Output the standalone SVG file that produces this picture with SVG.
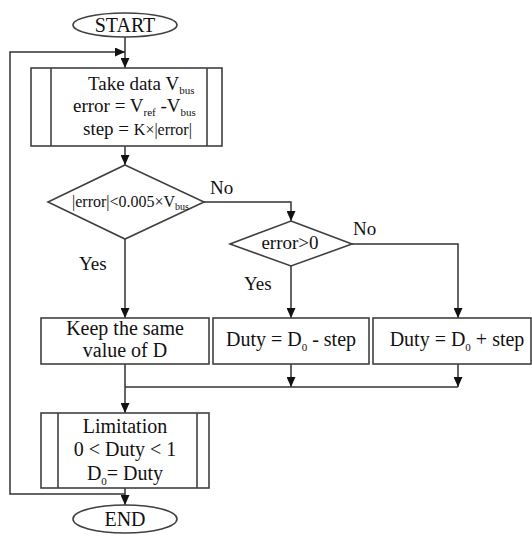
<svg xmlns="http://www.w3.org/2000/svg" width="532" height="541" viewBox="0 0 532 541">
<style>
  .shape { fill: #fff; stroke: #404040; stroke-width: 1.6; }
  .line { fill: none; stroke: #333; stroke-width: 1.5; }
  text { font-family: "Liberation Serif", "Times New Roman", serif; fill: #111; }
  .t20 { font-size: 20px; }
  .t19 { font-size: 19px; }
  .sub { font-size: 11px; }
  .mid { text-anchor: middle; }
</style>
<defs>
  <marker id="arr" markerUnits="userSpaceOnUse" markerWidth="10" markerHeight="9" refX="10" refY="4.5" orient="auto" viewBox="0 0 10 9">
    <path d="M0,0 L10,4.5 L0,9 z" fill="#111"/>
  </marker>
</defs>

<g id="connectors">
  <line class="line" x1="125" y1="37" x2="125" y2="68" marker-end="url(#arr)"/>
  <polyline class="line" points="125,494 10,494 10,52 125,52" marker-end="url(#arr)"/>
  <line class="line" x1="125" y1="146" x2="125" y2="165" marker-end="url(#arr)"/>
  <polyline class="line" points="204,202 291,202 291,221" marker-end="url(#arr)"/>
  <line class="line" x1="125" y1="239" x2="125" y2="318" marker-end="url(#arr)"/>
  <line class="line" x1="291" y1="266" x2="291" y2="318" marker-end="url(#arr)"/>
  <polyline class="line" points="352,244 458,244 458,318" marker-end="url(#arr)"/>
  <line class="line" x1="291" y1="364" x2="291" y2="387" marker-end="url(#arr)"/>
  <line class="line" x1="458" y1="364" x2="458" y2="387" marker-end="url(#arr)"/>
  <line class="line" x1="125" y1="387" x2="458" y2="387"/>
  <line class="line" x1="125" y1="364" x2="125" y2="413" marker-end="url(#arr)"/>
  <line class="line" x1="125" y1="488" x2="125" y2="505" marker-end="url(#arr)"/>
  <text class="t19" x="210" y="194">No</text>
  <text class="t19" x="353" y="235">No</text>
  <text class="t19" x="79" y="270">Yes</text>
  <text class="t19" x="244" y="290">Yes</text>
</g>

<g id="start">
  <ellipse class="shape" cx="125" cy="25" rx="52" ry="12"/>
  <text class="t20 mid" x="125" y="32">START</text>
</g>

<g id="take-data">
  <rect class="shape" x="31" y="68" width="191" height="78"/>
  <line class="shape" x1="51" y1="68" x2="51" y2="146"/>
  <line class="shape" x1="207" y1="68" x2="207" y2="146"/>
  <text class="t19" x="88" y="90">Take data V<tspan class="sub" dy="4">bus</tspan></text>
  <text class="t19" x="73" y="112">error = V<tspan class="sub" dy="4">ref</tspan><tspan dy="-4"> -V</tspan><tspan class="sub" dy="4">bus</tspan></text>
  <text class="t19" x="83" y="135">step = <tspan style="font-size:16px">K×|error|</tspan></text>
</g>

<g id="decision-error-small">
  <polygon class="shape" points="125,165 204,202 125,239 48,202"/>
  <text style="font-size:16px" x="72" y="207">|error|&lt;0.005×V<tspan style="font-size:10px" dy="3">bus</tspan></text>
</g>

<g id="decision-error-positive">
  <polygon class="shape" points="291,221 352,244 291,266 230,244"/>
  <text class="t19 mid" x="290" y="249">error&gt;0</text>
</g>

<g id="keep-d">
  <rect class="shape" x="41" y="318" width="168" height="46"/>
  <text class="t20 mid" x="125" y="335">Keep the same</text>
  <text class="t20 mid" x="125" y="357">value of D</text>
</g>

<g id="duty-minus">
  <rect class="shape" x="213" y="318" width="156" height="46"/>
  <text class="t20 mid" x="291" y="346">Duty = D<tspan class="sub" dy="5">0</tspan><tspan dy="-5"> - step</tspan></text>
</g>

<g id="duty-plus">
  <rect class="shape" x="373" y="318" width="158" height="46"/>
  <text class="t20 mid" x="457" y="346">Duty = D<tspan class="sub" dy="5">0</tspan><tspan dy="-5"> + step</tspan></text>
</g>

<g id="limitation">
  <rect class="shape" x="41" y="413" width="168" height="75"/>
  <line class="shape" x1="58" y1="413" x2="58" y2="488"/>
  <line class="shape" x1="197" y1="413" x2="197" y2="488"/>
  <text class="t20 mid" x="125" y="433">Limitation</text>
  <text class="t20 mid" x="125" y="456">0 &lt; Duty &lt; 1</text>
  <text class="t20 mid" x="125" y="480">D<tspan class="sub" dy="5">0</tspan><tspan dy="-5">= Duty</tspan></text>
</g>

<g id="end">
  <ellipse class="shape" cx="125" cy="519" rx="52" ry="14"/>
  <text class="t20 mid" x="125" y="526">END</text>
</g>
</svg>
